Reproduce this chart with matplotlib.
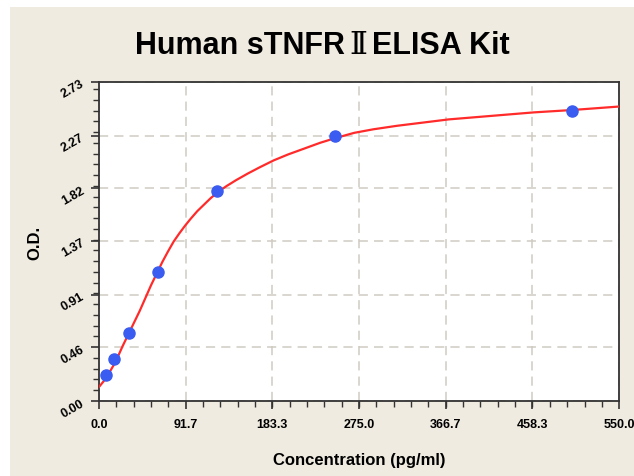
import matplotlib.pyplot as plt
from matplotlib.patches import Rectangle
from matplotlib.ticker import AutoMinorLocator

# standard points
conc = [7.81, 15.63, 31.25, 62.5, 125, 250, 500]
od = [0.22, 0.36, 0.58, 1.10, 1.80, 2.27, 2.48]

# fitted curve
curve_x = [0, 5, 10, 15, 20, 25, 31, 37, 43, 49, 55, 61, 67, 73, 79, 85, 91, 97, 104,
           111, 118, 126, 135, 145, 157, 170, 185, 200, 217, 234, 250, 270, 290, 315,
           340, 370, 400, 430, 460, 500, 550]
curve_y = [0.12, 0.17, 0.23, 0.30, 0.38, 0.47, 0.57, 0.67, 0.77, 0.88, 0.99, 1.09, 1.19,
           1.28, 1.365, 1.435, 1.50, 1.56, 1.625, 1.68, 1.735, 1.79, 1.84, 1.89, 1.945,
           2.00, 2.06, 2.11, 2.16, 2.21, 2.25, 2.295, 2.325, 2.355, 2.38, 2.41, 2.43,
           2.45, 2.47, 2.49, 2.52]

xticks = [0, 91.7, 183.3, 275.0, 366.7, 458.3, 550.0]
yticks = [0.00, 0.46, 0.91, 1.37, 1.82, 2.27, 2.73]

fonts = ['Liberation Sans', 'DejaVu Sans']
plt.rcParams['font.family'] = fonts

fig = plt.figure(figsize=(6.34, 4.77), dpi=100, facecolor='white')
fig.patches.append(Rectangle((10 / 634, 0), 1, (477 - 8) / 477, transform=fig.transFigure,
                             facecolor='#efebe0', edgecolor='none', zorder=-5))

ax = fig.add_axes([99 / 634, 75 / 477, 520 / 634, 319 / 477])
ax.set_facecolor('white')

ax.plot(curve_x, curve_y, color='#ff2a2a', lw=1.6, zorder=3)
ax.plot(conc, od, 'o', color='#3a5cf0', ms=8, zorder=4)

ax.set_xlim(0, 550)
ax.set_ylim(0, 2.73)
ax.set_xticks(xticks)
ax.set_xticklabels(['%.1f' % v for v in xticks], fontsize=9, fontweight='bold')
ax.set_yticks(yticks)
ax.set_yticklabels(['%.2f' % v for v in yticks], fontsize=9, fontweight='bold', rotation=30)
ax.xaxis.set_minor_locator(AutoMinorLocator(5))
ax.yaxis.set_minor_locator(AutoMinorLocator(5))
ax.tick_params(which='major', direction='out', length=6, width=1.2, color='#333333', pad=3)
ax.tick_params(which='minor', direction='out', length=4, width=1.0, color='#333333')
ax.tick_params(axis='x', pad=6)

ax.grid(True, which='major', linestyle=(0, (6, 4)), color='#cfcbc2', lw=1.1)
ax.set_axisbelow(True)
for s in ax.spines.values():
    s.set_color('#333333')
    s.set_linewidth(1.3)

ax.set_xlabel('Concentration (pg/ml)', fontsize=12, fontweight='bold', labelpad=16)
ax.set_ylabel('O.D.', fontsize=12, fontweight='bold', labelpad=12)

# title in three pieces so the roman numeral gets a serif face
ty = (477 - 46) / 477
fig.text(345 / 634, ty, 'Human sTNFR', ha='right', va='center', fontsize=22, fontweight='bold')
fig.text(358 / 634, ty, 'Ⅱ', ha='center', va='center', fontsize=22,
         family=['DejaVu Serif', 'DejaVu Sans'])
fig.text(372 / 634, ty, 'ELISA Kit', ha='left', va='center', fontsize=22, fontweight='bold')

plt.savefig('out.png', dpi=100)
